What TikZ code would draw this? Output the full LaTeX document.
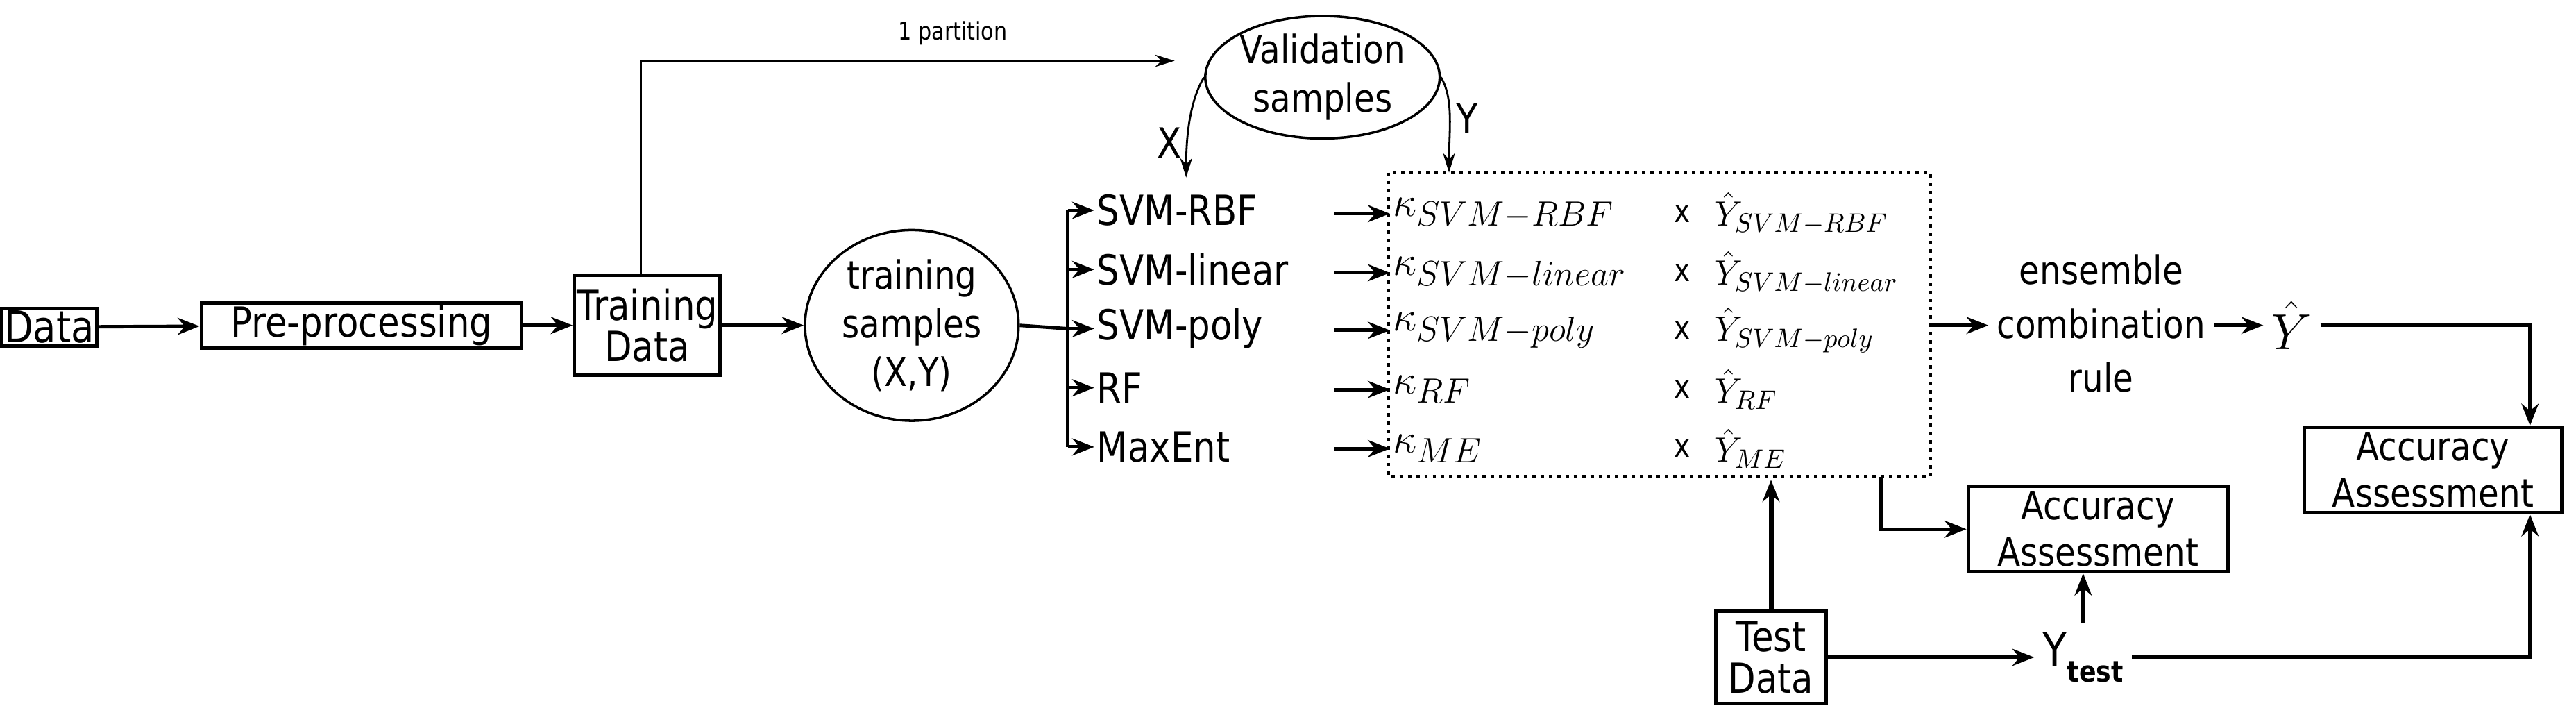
\documentclass[tikz,border=0pt]{standalone}
\usepackage{fontspec}
\setmainfont{DejaVu Sans}[FakeStretch=0.86]
\usetikzlibrary{arrows.meta,shapes.geometric}
\begin{document}
\begin{tikzpicture}[x=0.02367cm,y=-0.02367cm,
  txt/.style={font=\fontsize{17}{20}\selectfont},
  box/.style={draw,line width=1.4pt,inner sep=2pt,align=center,font=\fontsize{17}{19}\selectfont},
  ell/.style={draw,ellipse,line width=1pt,align=center,inner sep=0pt,font=\fontsize{16}{20}\selectfont},
  arr/.style={-{Stealth[length=9pt,width=7pt]},line width=1.4pt},
  tarr/.style={-{Stealth[length=8pt,width=5pt]},line width=0.8pt}]
\useasboundingbox (0,0) rectangle (1568,435);
\node[box,font=\fontsize{18}{20}\selectfont,inner sep=1pt] (data) at (30,199) {Data};
\node[box,minimum width=195*0.02367cm,inner sep=1pt] (pre) at (220,198) {Pre-processing};
\node[box,minimum width=72*0.02367cm,minimum height=61*0.02367cm,inner sep=1pt] (tr) at (394,198) {Training\\[-2pt]Data};
\node[ell,minimum width=130*0.02367cm,minimum height=116*0.02367cm] (ts) at (555,198) {training\\samples\\(X,Y)};
\node[ell,minimum width=142*0.02367cm,minimum height=70*0.02367cm] (vs) at (805,47) {Validation\\samples};
\draw[arr] (data) -- (pre);
\draw[arr] (pre) -- (tr);
\draw[arr] (tr) -- (ts);
\coordinate (p1) at (390,37);
\coordinate (p2) at (715,37);
\draw[tarr] (tr.north -| p1) |- (p2);
\node[font=\fontsize{10}{12}\selectfont] (part) at (580,20) {1 partition};
% classifiers
\coordinate (split) at (650,200);
\draw[line width=1.4pt] (ts.east) -- (split);
\draw[line width=1.4pt] (650,128) -- (650,272);
\foreach \n/\t/\y in {a/SVM-RBF/128,b/SVM-linear/164,c/SVM-poly/200,d/RF/236,e/MaxEnt/272}{
  \node[txt,anchor=west,inner sep=1pt] (c\n) at (666,\y) {\t};
  \coordinate (s\n) at (650,\y);
  \draw[arr] (s\n) -- (c\n.west);
}
% dotted box
\draw[line width=1.4pt,dotted] (845,105) rectangle (1175,290);
\foreach \n/\k/\y in {a/{SVM-RBF}/130,b/{SVM-linear}/166,c/{SVM-poly}/201,d/{RF}/237,e/{ME}/273}{
  \node[anchor=west,inner sep=1pt,font=\fontsize{19}{21}\selectfont] (k\n) at (846,\y) {$\kappa_{\k}$};
  \node[inner sep=1pt,font=\fontsize{13}{15}\selectfont] (x\n) at (1024,\y) {x};
  \node[anchor=west,inner sep=1pt,font=\fontsize{15}{17}\selectfont] (y\n) at (1042,\y) {$\hat{Y}_{\k}$};
  \coordinate (e\n) at (812,\y);
  \draw[arr] (e\n) -- (k\n.west);
}
% validation arrows
\coordinate (xa) at (722,108);
\coordinate (ya) at (882,105);
\draw[tarr] (vs.west) .. controls (725,60) and (722,80) .. (xa);
\draw[tarr] (vs.east) .. controls (885,60) and (882,80) .. (ya);
\node[txt] (xl) at (712,87) {X};
\node[txt] (yl) at (893,72) {Y};
% ensemble
\coordinate (br) at (1175,198);
\node[align=center,font=\fontsize{16}{22}\selectfont] (ens) at (1279,197) {ensemble\\combination\\rule};
\draw[arr] (br) -- (ens.west |- br);
\node[font=\fontsize{20}{22}\selectfont] (yh) at (1395,198) {$\hat{Y}$};
\draw[arr] (ens.east |- br) -- (yh.west);
\node[box,font=\fontsize{16}{19}\selectfont,minimum width=157*0.02367cm] (acc2) at (1481,286) {Accuracy\\Assessment};
\node[box,font=\fontsize{16}{19}\selectfont,minimum width=158*0.02367cm] (acc1) at (1277,322) {Accuracy\\Assessment};
\coordinate (c2) at (1540,198);
\draw[arr] (yh.east) -- (c2) -- (c2 |- acc2.north);
\coordinate (bb) at (1145,290);
\draw[arr] (bb) |- (acc1.west);
\node[box,minimum width=67*0.02367cm,minimum height=56*0.02367cm,inner sep=1pt] (test) at (1078,400) {Test\\[-2pt]Data};
\coordinate (tt) at (1078,292);
\draw[arr,line width=2pt] (test.north) -- (tt);
\node[font=\fontsize{19}{22}\selectfont] (yt) at (1268,400) {Y\raisebox{-0.35em}{\fontsize{12}{14}\selectfont\bfseries test}};
\draw[arr] (test.east) -- (yt.west);
\draw[arr] (yt.north) -- (yt.north |- acc1.south);
\coordinate (c3) at (1540,400);
\draw[arr] (yt.east) -- (c3) -- (c3 |- acc2.south);
\end{tikzpicture}
\end{document}
